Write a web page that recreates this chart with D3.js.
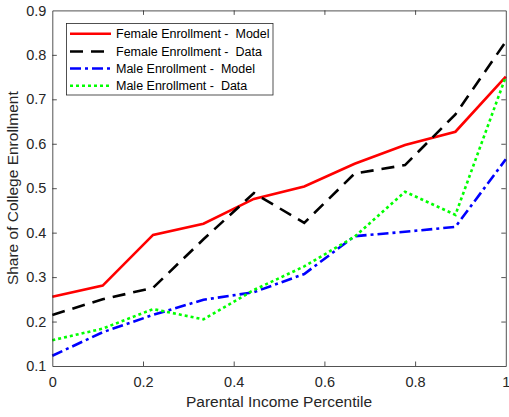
<!DOCTYPE html>
<html><head><meta charset="utf-8">
<script src="https://cdn.jsdelivr.net/npm/d3@7"></script>
<style>html,body{margin:0;padding:0;background:#fff;}svg{display:block;font-family:"Liberation Sans",Arial,sans-serif;}text{white-space:pre;}</style>
</head><body>
<script>
const xValues = [0, 1/9, 2/9, 3/9, 4/9, 5/9, 6/9, 7/9, 8/9, 1];
const femaleModel = [0.256, 0.281, 0.395, 0.420, 0.476, 0.504, 0.555, 0.597, 0.627, 0.751];
const femaleData  = [0.215, 0.250, 0.276, 0.385, 0.489, 0.422, 0.533, 0.552, 0.666, 0.830];
const maleModel   = [0.123, 0.176, 0.215, 0.249, 0.266, 0.307, 0.392, 0.402, 0.413, 0.565];
const maleData    = [0.158, 0.184, 0.228, 0.205, 0.271, 0.324, 0.391, 0.492, 0.440, 0.751];
const seriesNames = ["Female Enrollment -  Model","Female Enrollment -  Data","Male Enrollment -  Model","Male Enrollment -  Data"];
const seriesColors = ["#ff0000","#000000","#0000ff","#00ff00"];
const seriesDash = [null,"13,8","11,4,3,4","3,3"];
const xTicks = [0,0.2,0.4,0.6,0.8,1];
const yTicks = [0.1,0.2,0.3,0.4,0.5,0.6,0.7,0.8,0.9];

const W=509,H=417;
const L=52.3,R=505.8,T=10.4,B=366;
const svg=d3.select("body").append("svg").attr("width",W).attr("height",H);
const x=d3.scaleLinear().domain([0,1]).range([L,R]);
const y=d3.scaleLinear().domain([0.1,0.9]).range([B,T]);
const axisColor="#262626";

const all=[femaleModel,femaleData,maleModel,maleData];
const line=d3.line().x((d,i)=>x(xValues[i])).y(d=>y(d));
const plot=svg.append("g");
all.forEach((s,k)=>{
  plot.append("path").datum(s).attr("d",line).attr("fill","none")
    .attr("stroke",seriesColors[k]).attr("stroke-width",2.6)
    .attr("stroke-dasharray",seriesDash[k]).attr("stroke-linejoin","miter");
});

const tickFmt=d=>d===0?"0":d===1?"1":d3.format(".1f")(d);
const gx=svg.append("g").attr("transform",`translate(0,${B})`)
  .call(d3.axisBottom(x).tickValues(xTicks).tickFormat(tickFmt).tickSizeInner(-4.5).tickSizeOuter(0).tickPadding(11));
const gxt=svg.append("g").attr("transform",`translate(0,${T})`)
  .call(d3.axisTop(x).tickValues(xTicks).tickFormat("").tickSizeInner(-4.5).tickSizeOuter(0));
const gy=svg.append("g").attr("transform",`translate(${L},0)`)
  .call(d3.axisLeft(y).tickValues(yTicks).tickFormat(d3.format(".1f")).tickSizeInner(-4.5).tickSizeOuter(0).tickPadding(6));
const gyr=svg.append("g").attr("transform",`translate(${R},0)`)
  .call(d3.axisRight(y).tickValues(yTicks).tickFormat("").tickSizeInner(-4.5).tickSizeOuter(0));
[gx,gxt,gy,gyr].forEach(g=>{
  g.select(".domain").attr("stroke",axisColor).attr("stroke-width",0.8);
  g.selectAll(".tick line").attr("stroke",axisColor).attr("stroke-width",0.8);
  g.selectAll("text").attr("fill",axisColor).attr("font-size",14.5).attr("font-family",'"Liberation Sans",Arial,sans-serif');
});
gx.selectAll(".tick").filter(d=>d===0||d===1).select("line").remove();
gxt.selectAll(".tick").filter(d=>d===0||d===1).select("line").remove();
gy.selectAll(".tick").filter(d=>d===0.1||d===0.9).select("line").remove();
gyr.selectAll(".tick").filter(d=>d===0.1||d===0.9).select("line").remove();

svg.append("text").attr("x",279).attr("y",407).attr("text-anchor","middle")
  .attr("font-size",15.5).attr("fill",axisColor).text("Parental Income Percentile");
svg.append("text").attr("transform",`translate(18,${(T+B)/2}) rotate(-90)`).attr("text-anchor","middle")
  .attr("font-size",15.5).attr("fill",axisColor).text("Share of College Enrollment");

const lg=svg.append("g");
lg.append("rect").attr("x",66.5).attr("y",23.5).attr("width",206.5).attr("height",71.5)
  .attr("fill","#fff").attr("stroke",axisColor).attr("stroke-width",0.8);
const rowY=[33.7,51.5,68.5,85.7];
seriesNames.forEach((n,k)=>{
  lg.append("line").attr("x1",70).attr("x2",111).attr("y1",rowY[k]).attr("y2",rowY[k])
    .attr("stroke",seriesColors[k]).attr("stroke-width",2.6).attr("stroke-dasharray",seriesDash[k]);
  lg.append("text").attr("x",116).attr("y",rowY[k]).attr("dy","0.35em")
    .attr("font-size",12.5).attr("fill","#000").text(n);
});
</script>
</body></html>
